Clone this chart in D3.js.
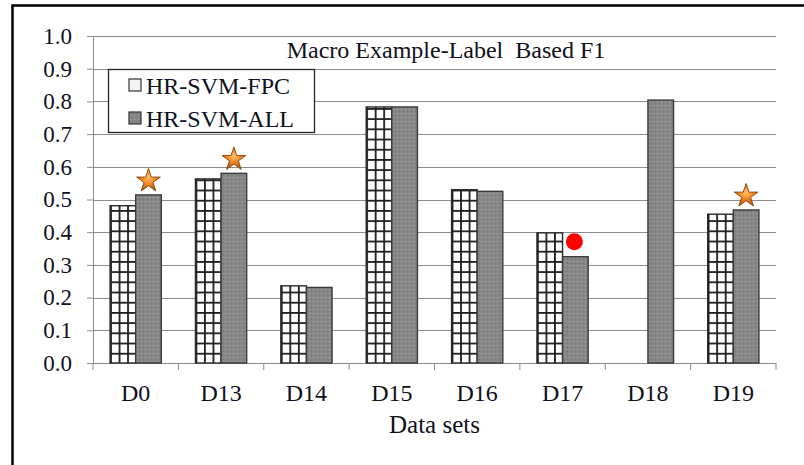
<!DOCTYPE html>
<html>
<head>
<meta charset="utf-8">
<script src="https://cdn.jsdelivr.net/npm/d3@7"></script>
<style>
body{margin:0;background:#fff;}
text{font-family:"Liberation Serif","Times New Roman",serif;fill:#101020;}
</style>
</head>
<body>
<div id="chart"></div>
<script>
// data
var categories=["D0","D13","D14","D15","D16","D17","D18","D19"];
var seriesNames=["HR-SVM-FPC","HR-SVM-ALL"];
var fpcValues=[0.481,0.563,0.236,0.783,0.530,0.398,0,0.455];
var allValues=[0.514,0.580,0.231,0.783,0.525,0.325,0.804,0.468];
var yTicks=[0,0.1,0.2,0.3,0.4,0.5,0.6,0.7,0.8,0.9,1.0];
var starCats=["D0","D13","D19"];
var dotCats=["D17"];

var w=804, h=465;
var plotL=93, plotR=776, plotT=36, plotB=363;

var svg=d3.select("#chart").append("svg").attr("width",w).attr("height",h);
var defs=svg.append("defs");

var x0=d3.scaleBand().domain(categories).range([plotL,plotR]).paddingInner(0.4).paddingOuter(0.2);
var x1=d3.scaleBand().domain(seriesNames).range([0,x0.bandwidth()]);
var y=d3.scaleLinear().domain([0,1]).range([plotB,plotT]);

// frame
svg.append("path").attr("d","M12.5,465 V5.5 H804").attr("fill","none").attr("stroke","#000").attr("stroke-width",2.5);

// gridlines
svg.append("g").selectAll("line").data(yTicks).join("line")
    .attr("x1",plotL).attr("x2",plotR)
    .attr("y1",d=>Math.round(y(d))+0.5).attr("y2",d=>Math.round(y(d))+0.5)
    .attr("stroke","#8c8c8c").attr("stroke-width",1.2);

// y axis
var yAxis=svg.append("g").attr("transform","translate("+plotL+",0)")
    .call(d3.axisLeft(y).tickValues(yTicks).tickFormat(d3.format(".1f")).tickSize(6).tickPadding(15));
yAxis.select(".domain").attr("stroke","#8c8c8c");
yAxis.selectAll(".tick line").attr("stroke","#8c8c8c");
yAxis.selectAll("text").attr("font-size",23).attr("fill","#101020").style("font-family","Liberation Serif");

// x axis, ticks on category boundaries
var bounds=categories.map(c=>x0(c)-x0.step()*x0.paddingOuter()).concat([plotR]);
var xg=svg.append("g");
xg.append("line").attr("x1",plotL).attr("x2",plotR).attr("y1",plotB+0.5).attr("y2",plotB+0.5).attr("stroke","#8c8c8c").attr("stroke-width",1.2);
xg.selectAll("line.t").data(bounds).join("line").attr("class","t")
    .attr("x1",d=>d).attr("x2",d=>d).attr("y1",plotB).attr("y2",plotB+7).attr("stroke","#8c8c8c");
xg.selectAll("text").data(categories).join("text")
    .attr("x",d=>x0(d)+x0.bandwidth()/2).attr("y",401)
    .attr("text-anchor","middle").attr("font-size",24).text(d=>d);

svg.append("text").attr("x",(plotL+plotR)/2).attr("y",433).attr("text-anchor","middle").attr("font-size",25).text("Data sets");

// patterns
var dots=defs.append("pattern").attr("id","dots").attr("patternUnits","userSpaceOnUse").attr("width",4).attr("height",4);
dots.append("rect").attr("width",4).attr("height",4).attr("fill","#868686");
dots.append("rect").attr("x",1).attr("y",1).attr("width",1).attr("height",1).attr("fill","#a8a8a8");
dots.append("rect").attr("x",3).attr("y",3).attr("width",1).attr("height",1).attr("fill","#747474");

var bw=x1.bandwidth();
var hatchW=bw/3, hatchH=10.2;
defs.selectAll("pattern.h").data(categories).join("pattern").attr("class","h")
    .attr("id",(d,i)=>"hatch"+i)
    .attr("patternUnits","userSpaceOnUse")
    .attr("x",d=>x0(d)+x1("HR-SVM-FPC")).attr("y",plotB)
    .attr("width",hatchW).attr("height",hatchH)
    .each(function(){
        var p=d3.select(this);
        p.append("rect").attr("width",hatchW).attr("height",hatchH).attr("fill","#fff");
        p.append("rect").attr("width",1.8).attr("height",hatchH).attr("fill","#1e1e1e");
        p.append("rect").attr("width",hatchW).attr("height",1.8).attr("fill","#1e1e1e");
    });

// bars
var g=svg.append("g");
g.selectAll("rect.fpc").data(fpcValues).join("rect").attr("class","fpc")
    .attr("x",(d,i)=>x0(categories[i])+x1("HR-SVM-FPC"))
    .attr("y",d=>y(d)).attr("width",bw).attr("height",d=>plotB-y(d))
    .attr("fill",(d,i)=>"url(#hatch"+i+")")
    .attr("stroke",d=>d>0?"#2a2a2a":"none").attr("stroke-width",1.4);
g.selectAll("rect.all").data(allValues).join("rect").attr("class","all")
    .attr("x",(d,i)=>x0(categories[i])+x1("HR-SVM-ALL"))
    .attr("y",d=>y(d)).attr("width",bw).attr("height",d=>plotB-y(d))
    .attr("fill","url(#dots)").attr("stroke","#3a3a3a").attr("stroke-width",1.4);

// star markers
var grad=defs.append("radialGradient").attr("id","starGrad").attr("cx","50%").attr("cy","40%").attr("r","60%");
grad.append("stop").attr("offset","0%").attr("stop-color","#fcc46c");
grad.append("stop").attr("offset","50%").attr("stop-color","#ee8420");
grad.append("stop").attr("offset","100%").attr("stop-color","#a8520c");
var star=d3.symbol().type(d3.symbolStar).size(175);
svg.append("g").selectAll("path").data(starCats).join("path")
    .attr("d",star)
    .attr("transform",d=>"translate("+(x0(d)+x1("HR-SVM-ALL")+bw/2)+","+(y(allValues[categories.indexOf(d)])-14)+")")
    .attr("fill","url(#starGrad)").attr("stroke","#8a440a").attr("stroke-width",0.9);

svg.append("g").selectAll("circle").data(dotCats).join("circle")
    .attr("cx",d=>x0(d)+x1("HR-SVM-ALL")+bw/2-1)
    .attr("cy",d=>y(allValues[categories.indexOf(d)])-15)
    .attr("r",8.5).attr("fill","#f00");

// title
svg.append("rect").attr("x",280).attr("y",37).attr("width",335).attr("height",30).attr("fill","#fff");
svg.append("text").attr("x",446).attr("y",58).attr("text-anchor","middle").attr("font-size",24)
    .attr("xml:space","preserve").style("white-space","pre").text("Macro Example-Label  Based F1");

// legend
var lg=svg.append("g");
lg.append("rect").attr("x",108.5).attr("y",69.5).attr("width",206).attr("height",63)
    .attr("fill","#fff").attr("stroke","#222").attr("stroke-width",1.3);
var items=lg.selectAll("g").data(seriesNames).join("g")
    .attr("transform",(d,i)=>"translate(129,"+(85+i*33)+")");
items.append("rect").attr("x",0).attr("y",-6).attr("width",12).attr("height",12)
    .attr("fill",(d,i)=>i==0?"#f4f4f4":"url(#dots)").attr("stroke","#333").attr("stroke-width",1.2);
items.append("text").attr("x",17).attr("y",8.5).attr("font-size",24).text(d=>d);
</script>
</body>
</html>
